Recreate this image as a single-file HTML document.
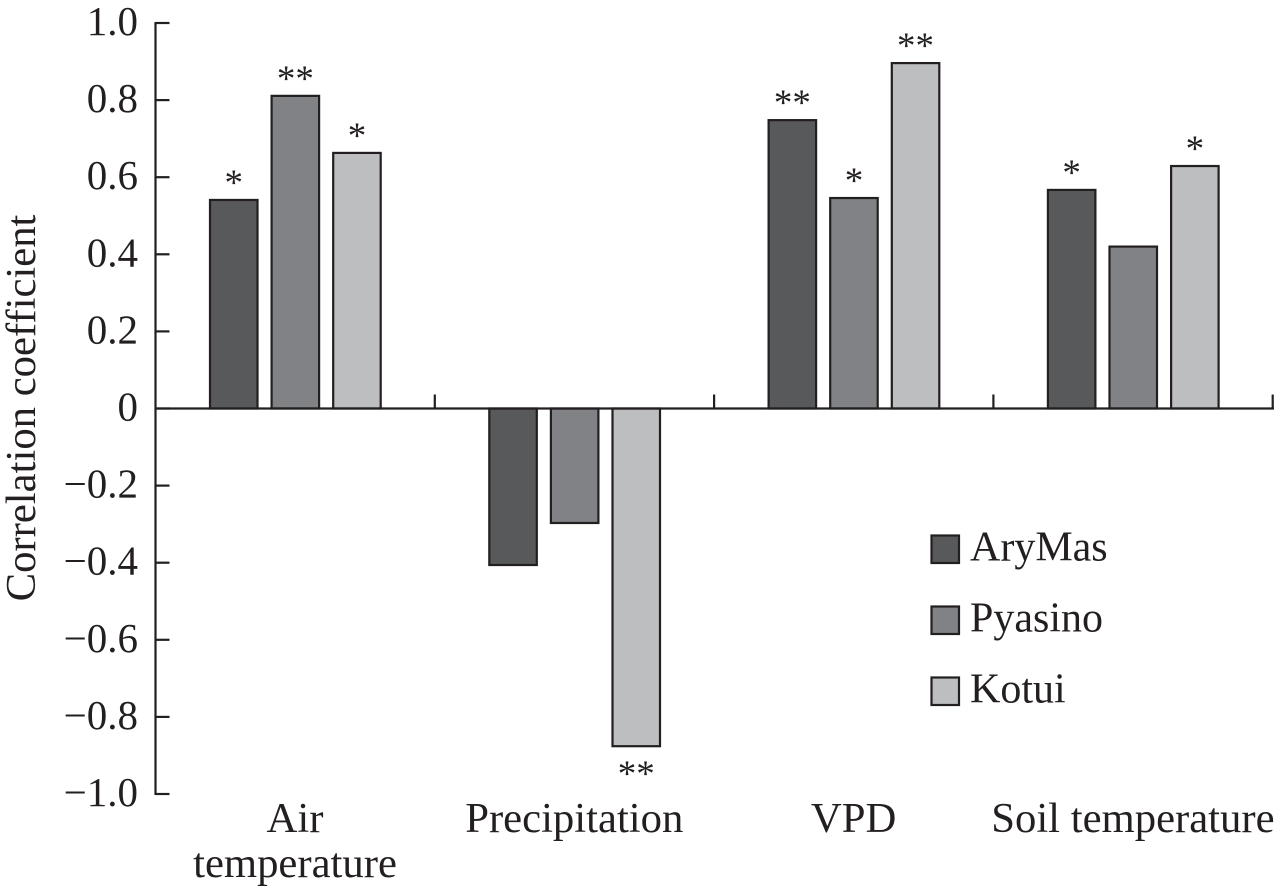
<!DOCTYPE html>
<html>
<head>
<meta charset="utf-8">
<style>
html,body{margin:0;padding:0;background:#fff;width:1275px;height:890px;overflow:hidden}
svg{display:block}
text{font-family:"Liberation Serif",serif;fill:#231f20;font-size:42.7px}
</style>
</head>
<body>
<svg id="chart" width="1275" height="890" viewBox="0 0 1275 890" xmlns="http://www.w3.org/2000/svg"></svg>
<script>
const categories = [["Air", "temperature"], ["Precipitation"], ["VPD"], ["Soil temperature"]];
const seriesNames = ["AryMas", "Pyasino", "Kotui"];
const aryMasValues = [0.541, -0.406, 0.748, 0.567];
const pyasinoValues = [0.811, -0.297, 0.546, 0.42];
const kotuiValues = [0.663, -0.876, 0.896, 0.629];
const aryMasMarks = ["*", "", "**", "*"];
const pyasinoMarks = ["**", "", "*", ""];
const kotuiMarks = ["*", "**", "**", "*"];
const yTicks = [1, 0.8, 0.6, 0.4, 0.2, 0, -0.2, -0.4, -0.6, -0.8, -1];
const yTickLabels = ["1.0", "0.8", "0.6", "0.4", "0.2", "0", "−0.2", "−0.4", "−0.6", "−0.8", "−1.0"];

const seriesValues = [aryMasValues, pyasinoValues, kotuiValues];
const seriesMarks = [aryMasMarks, pyasinoMarks, kotuiMarks];
const colors = ["#58595b", "#808285", "#bcbec0"];
const ink = "#231f20";
const svg = document.getElementById("chart");
const NS = "http://www.w3.org/2000/svg";

const y = v => 408.5 - v * 385.5;
const groupStart = i => 155.5 + i * 279.3;
const barX = (g, s) => groupStart(g) + 54.5 + s * 61.6;
const barW = 47.5;

function make(tag, attrs, txt) {
  const el = document.createElementNS(NS, tag);
  for (const k in attrs) el.setAttribute(k, attrs[k]);
  if (txt !== undefined) el.textContent = txt;
  svg.appendChild(el);
  return el;
}
function line(x1, y1, x2, y2, w) {
  return make("line", { x1, y1, x2, y2, stroke: ink, "stroke-width": w || 2.2 });
}

// y axis title
const yTitle = make("text", { transform: "translate(35,408) rotate(-90)", "text-anchor": "middle" }, "Correlation coefficient");



// bars
seriesValues.forEach((vals, s) => {
  vals.forEach((v, g) => {
    const top = Math.min(y(v), y(0));
    const h = Math.abs(y(v) - y(0));
    const bar = make("rect", { x: barX(g, s), y: top, width: barW, height: h, fill: colors[s], stroke: ink, "stroke-width": 2.2 });
    
    
    const mark = seriesMarks[s][g];
    if (mark) {
      const base = v >= 0 ? y(v) - 5 : y(v) + 40;
      const m = make("text", { x: barX(g, s) + barW / 2, y: base, "text-anchor": "middle", style: "font-size:37px" }, mark);
      
      
    }
  });
});

// y axis
const yAxis = line(155.5, 22, 155.5, 795);


yTicks.forEach((t, i) => {
  const tick = line(155.5, y(t), 169.5, y(t));
  
  
  const label = make("text", { x: 138, y: y(t) + 12, "text-anchor": "end", style: "font-size:41px" }, yTickLabels[i]);
  
  
});

// x axis
const xAxis = line(155.5, y(0), 1274, y(0));


categories.forEach((lines, g) => {
  const tick = line(groupStart(g + 1), y(0) - 14, groupStart(g + 1), y(0));
  
  
  lines.forEach((str, k) => {
    const label = make("text", { x: groupStart(g) + 139.5, y: 832 + k * 45, "text-anchor": "middle" }, str);
    
    
  });
});

// legend
seriesNames.forEach((name, s) => {
  const top = 535.5 + s * 71;
  const swatch = make("rect", { x: 931.5, y: top, width: 27.5, height: 27.5, fill: colors[s], stroke: ink, "stroke-width": 2.2 });
  
  
  const label = make("text", { x: 970, y: top + 25, style: "font-size:42px" }, name);
  
  
});
</script>
</body>
</html>
